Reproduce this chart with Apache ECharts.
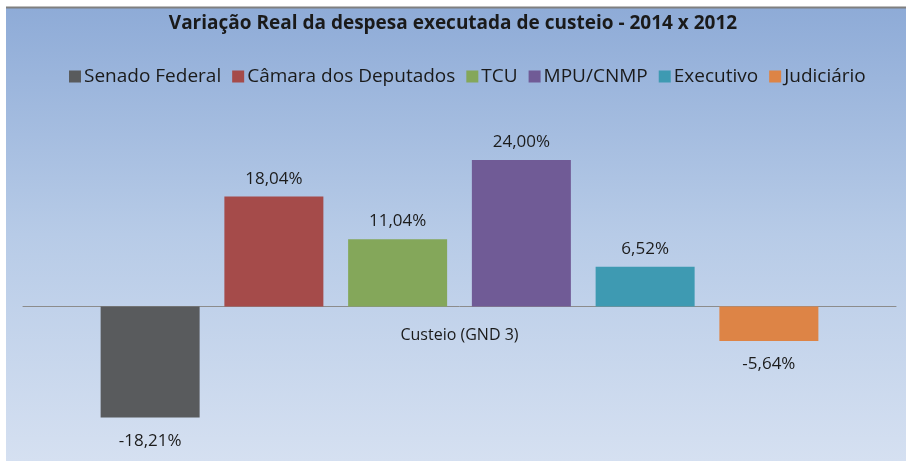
<!DOCTYPE html>
<html>
<head>
<meta charset="utf-8">
<script src="https://cdn.jsdelivr.net/npm/echarts@6/dist/echarts.min.js"></script>
<style>
html,body{margin:0;padding:0;background:#fff;}
#c{width:906px;height:462px;}
</style>
</head>
<body>
<div id="c"></div>
<script>
const titleText = 'Variação Real da despesa executada de custeio - 2014 x 2012';
const categories = ['Custeio (GND 3)'];
const seriesNames = ['Senado Federal', 'Câmara dos Deputados', 'TCU', 'MPU/CNMP', 'Executivo', 'Judiciário'];
const seriesValues = [-18.21, 18.04, 11.04, 24.00, 6.52, -5.64];
const seriesColors = ['#595b5d', '#a54b4a', '#84a75a', '#705b96', '#3e9ab2', '#dd8446'];

const chart = echarts.init(document.getElementById('c'));
const FONT = 'Open Sans';
const series = seriesNames.map((name, i) => ({
  name: name,
  type: 'bar',
  data: [seriesValues[i]],
  barWidth: 99,
  barGap: '25%',
  itemStyle: { color: seriesColors[i] },
  label: {
    show: true,
    position: seriesValues[i] >= 0 ? 'top' : 'bottom',
    distance: seriesValues[i] >= 0 ? 9 : 15,
    formatter: p => p.value.toFixed(2).replace('.', ',') + '%',
    color: '#1c1c1c',
    fontFamily: FONT,
    fontSize: 17
  }
}));

chart.setOption({
  animation: false,
  backgroundColor: '#ffffff',
  graphic: [
    {
      type: 'rect', z: -10, silent: true,
      shape: { x: 6, y: 7, width: 900, height: 454 },
      style: {
        fill: new echarts.graphic.LinearGradient(0, 0, 0, 1, [
          { offset: 0, color: '#8eabd7' },
          { offset: 0.5, color: '#b7cbe7' },
          { offset: 1, color: '#d5e0f1' }
        ])
      }
    },
    {
      type: 'line', z: -9, silent: true,
      shape: { x1: 6, y1: 7.5, x2: 906, y2: 7.5 },
      style: { stroke: '#7f7f7f', lineWidth: 2 }
    }
  ],
  title: {
    text: titleText,
    left: 'center',
    top: 9,
    textStyle: { fontFamily: FONT, fontSize: 19, fontWeight: 'bold', color: '#1a1a1a' }
  },
  legend: {
    data: seriesNames,
    top: 62,
    left: 64,
    icon: 'rect',
    itemWidth: 12,
    itemHeight: 12,
    itemGap: 11,
    textStyle: { fontFamily: FONT, fontSize: 19, color: '#1a1a1a', padding: [0, 0, 0, -2] }
  },
  grid: { left: 23, right: 10, top: 154, height: 274.5, containLabel: false },
  xAxis: {
    type: 'category',
    data: categories,
    axisLine: { onZero: true, lineStyle: { color: '#8c8c8c', width: 1 } },
    axisTick: { show: false },
    axisLabel: { margin: -101, fontFamily: FONT, fontSize: 16, color: '#1a1a1a' }
  },
  yAxis: {
    type: 'value',
    min: -20,
    max: 25,
    interval: 5,
    show: false,
    splitLine: { show: false }
  },
  series: series
});
</script>
</body>
</html>
